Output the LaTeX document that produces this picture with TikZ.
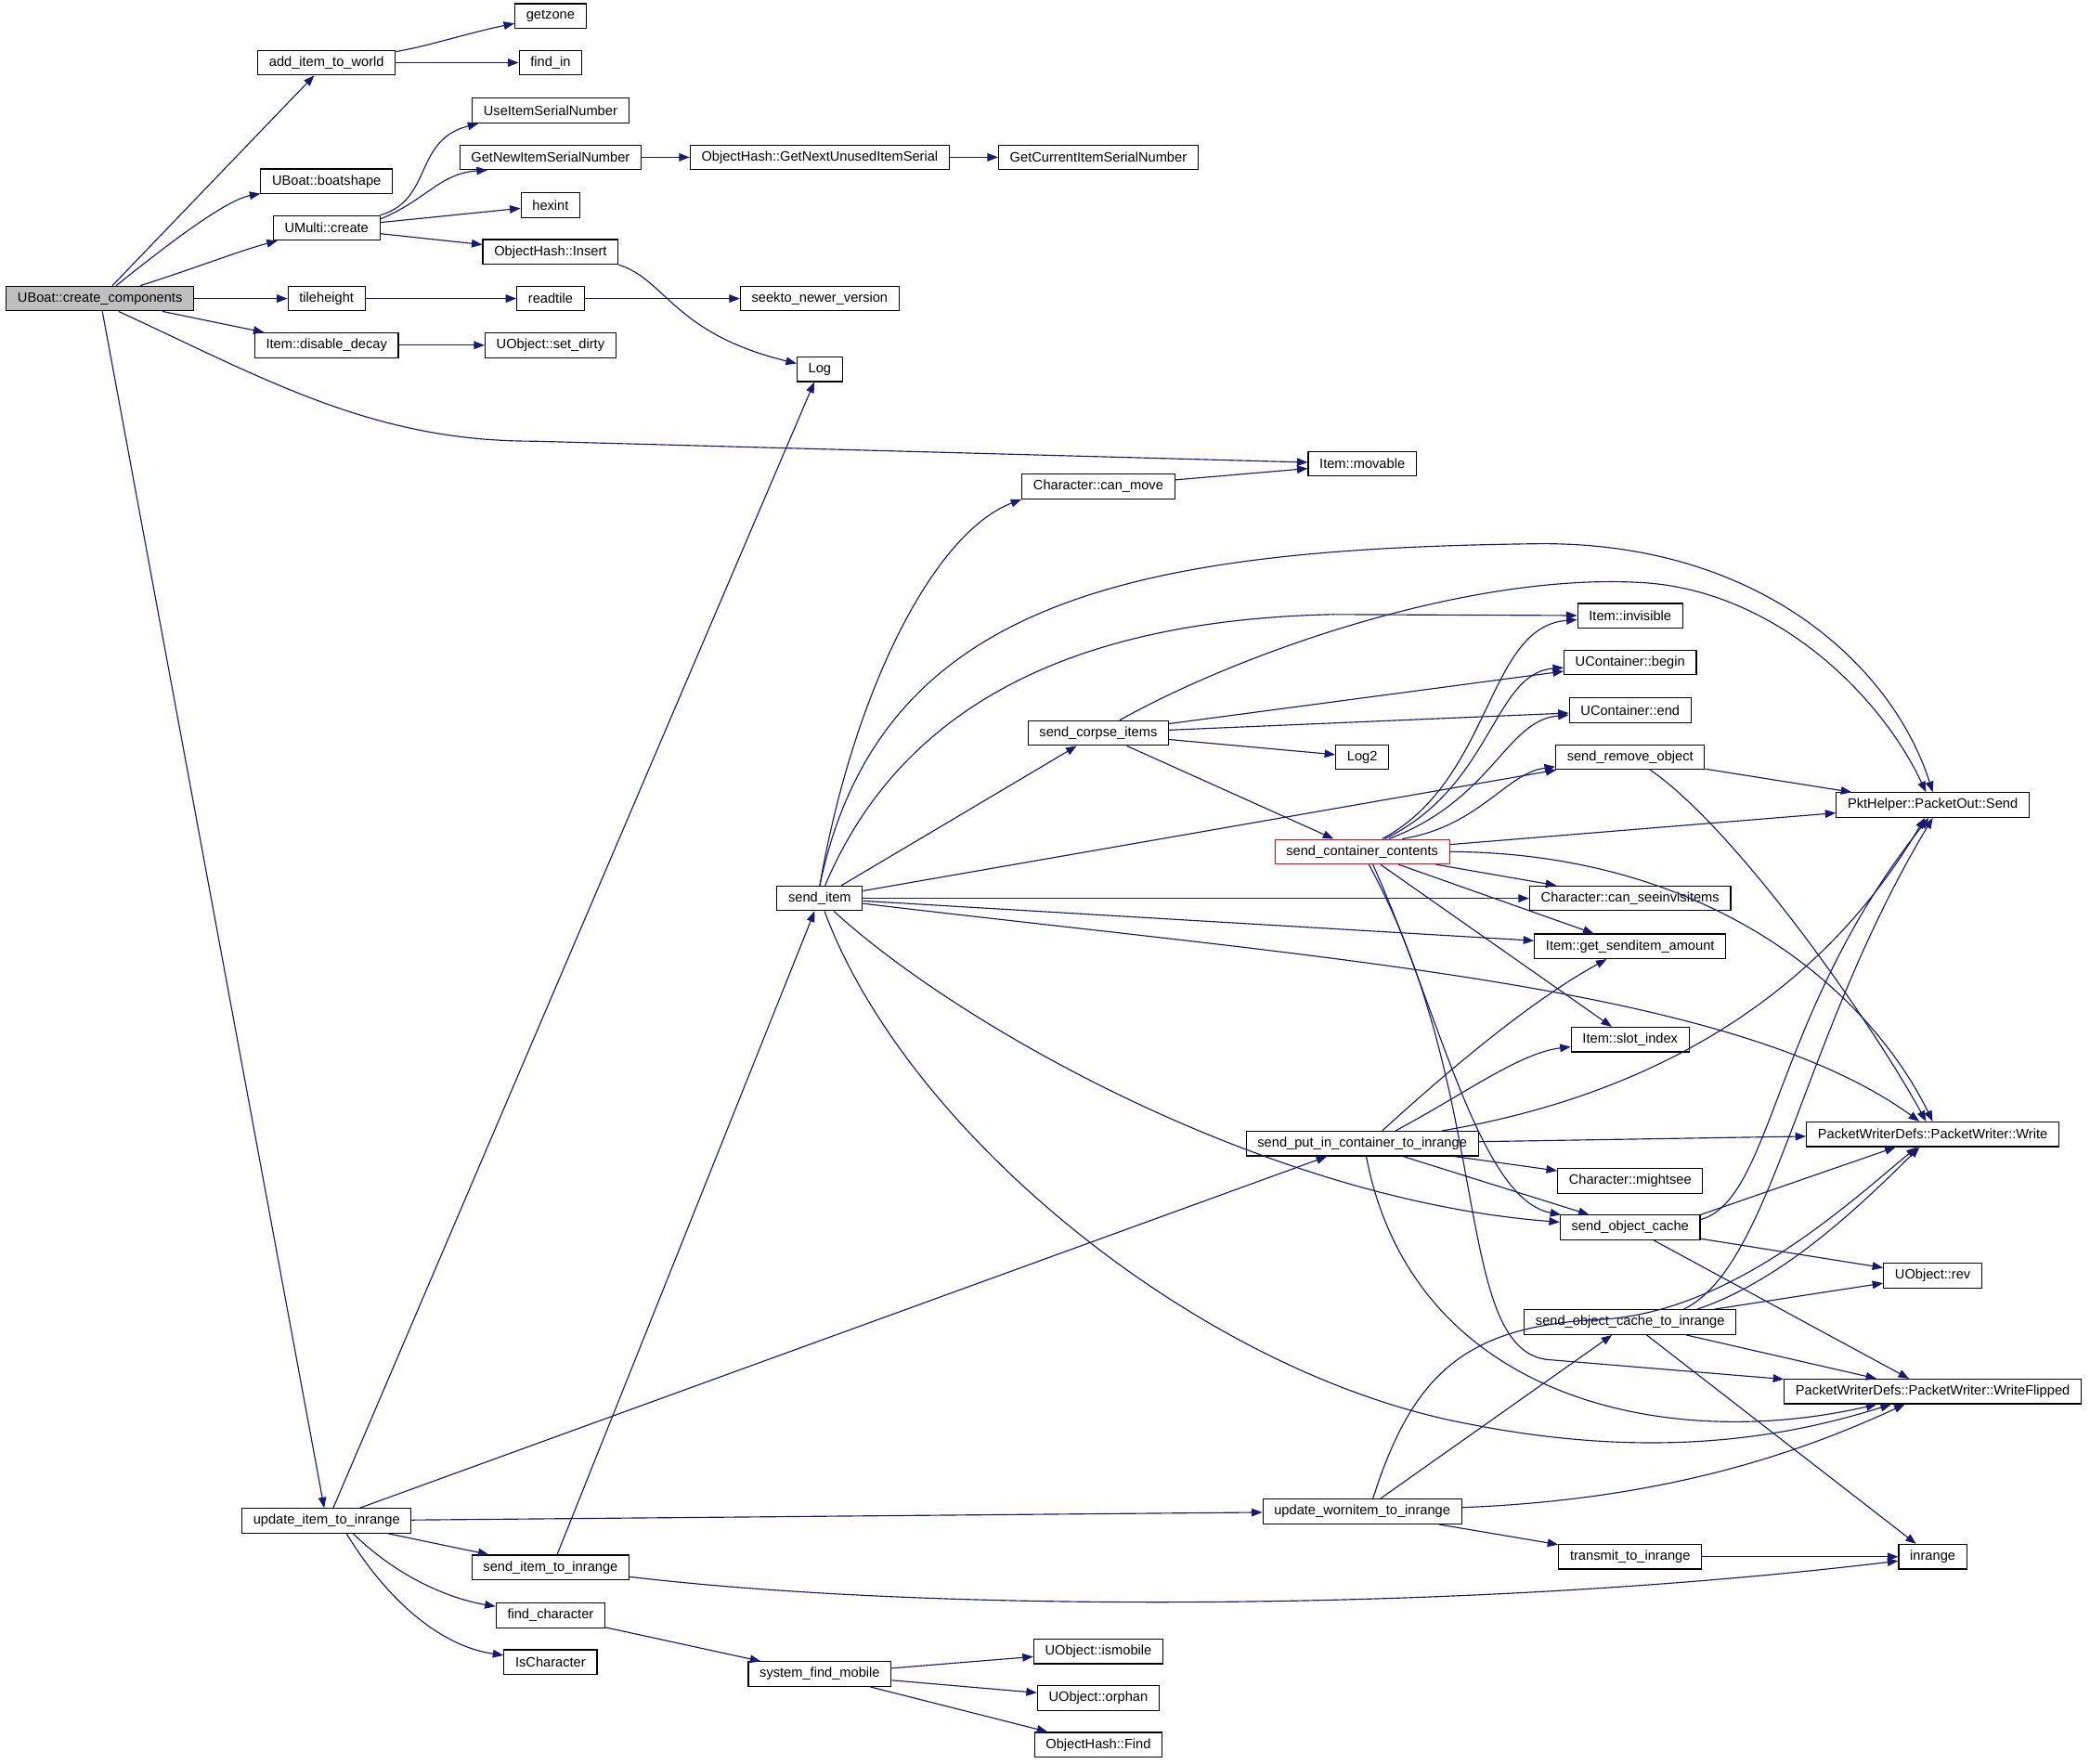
\documentclass[tikz,border=0pt]{standalone}
\usepackage{fontspec}
\setmainfont{Liberation Sans}
\usetikzlibrary{arrows.meta}
\definecolor{edgeblue}{HTML}{191970}
\tikzset{
  fn/.style={draw, rectangle, line width=0.8pt, inner xsep=8.5pt, inner ysep=0pt,
    minimum height=18.5pt, font=\fontsize{10.2}{12}\selectfont},
  fnmain/.style={fn, fill=black!25},
  fnred/.style={fn, draw=red},
  call/.style={->, draw=edgeblue, line width=0.8pt}
}

\begin{document}
\begin{tikzpicture}[x=1pt, y=-1pt, >={Triangle[length=8pt,width=6pt]}]
      \useasboundingbox (0,0) rectangle (1568,1323);

      \node[fnmain] (cc) at (75,224) {UBoat::create\_components};
      \node[fn] (aitw) at (245,47) {add\_item\_to\_world};
      \node[fn] (getzone) at (413,12) {getzone};
      \node[fn] (findin) at (413,47) {find\_in};
      \node[fn] (boat) at (245,136) {UBoat::boatshape};
      \node[fn] (useisn) at (413,83) {UseItemSerialNumber};
      \node[fn] (getnew) at (413,118) {GetNewItemSerialNumber};
      \node[fn] (getnext) at (615,118) {ObjectHash::GetNextUnusedItemSerial};
      \node[fn] (getcur) at (824,118) {GetCurrentItemSerialNumber};
      \node[fn] (umc) at (245,171) {UMulti::create};
      \node[fn] (hexint) at (413,154) {hexint};
      \node[fn] (ohins) at (413,189) {ObjectHash::Insert};
      \node[fn] (tileh) at (245,224) {tileheight};
      \node[fn] (readtile) at (413,224) {readtile};
      \node[fn] (seekto) at (615,224) {seekto\_newer\_version};
      \node[fn] (disdec) at (245,259) {Item::disable\_decay};
      \node[fn] (setdirty) at (413,259) {UObject::set\_dirty};
      \node[fn] (log) at (615,277) {Log};
      \node[fn] (movable) at (1022,348) {Item::movable};
      \node[fn] (canmove) at (824,365) {Character::can\_move};
      \node[fn] (invis) at (1223,462) {Item::invisible};
      \node[fn] (cbegin) at (1223,497) {UContainer::begin};
      \node[fn] (cend) at (1223,533) {UContainer::end};
      \node[fn] (corpse) at (824,550) {send\_corpse\_items};
      \node[fn] (logtwo) at (1022,568) {Log2};
      \node[fn] (remobj) at (1223,568) {send\_remove\_object};
      \node[fn] (pktsend) at (1450,604) {PktHelper::PacketOut::Send};
      \node[fnred] (contents) at (1022,639) {send\_container\_contents};
      \node[fn] (senditem) at (615,674) {send\_item};
      \node[fn] (seeinvis) at (1223,674) {Character::can\_seeinvisitems};
      \node[fn] (amount) at (1223,710) {Item::get\_senditem\_amount};
      \node[fn] (slotidx) at (1223,780) {Item::slot\_index};
      \node[fn] (putin) at (1022,858) {send\_put\_in\_container\_to\_inrange};
      \node[fn] (pwwrite) at (1450,851) {PacketWriterDefs::PacketWriter::Write};
      \node[fn] (mightsee) at (1223,886) {Character::mightsee};
      \node[fn] (objcache) at (1223,921) {send\_object\_cache};
      \node[fn] (rev) at (1450,957) {UObject::rev};
      \node[fn] (cacheinr) at (1223,992) {send\_object\_cache\_to\_inrange};
      \node[fn] (pwflip) at (1450,1044) {PacketWriterDefs::PacketWriter::WriteFlipped};
      \node[fn] (uiti) at (245,1141) {update\_item\_to\_inrange};
      \node[fn] (worn) at (1022,1134) {update\_wornitem\_to\_inrange};
      \node[fn] (transmit) at (1223,1168) {transmit\_to\_inrange};
      \node[fn] (inrange) at (1450,1168) {inrange};
      \node[fn] (sendinr) at (413,1176) {send\_item\_to\_inrange};
      \node[fn] (findchar) at (413,1212) {find\_character};
      \node[fn] (ischar) at (413,1247) {IsCharacter};
      \node[fn] (sysfind) at (615,1256) {system\_find\_mobile};
      \node[fn] (ismobile) at (824,1239) {UObject::ismobile};
      \node[fn] (orphan) at (824,1274) {UObject::orphan};
      \node[fn] (ohfind) at (824,1309) {ObjectHash::Find};

      \draw[call] (cc) -- (aitw);
      \draw[call] (cc) .. controls (130,180) and (170,150) .. (boat);
      \draw[call] (cc) .. controls (150,200) and (180,188) .. (umc);
      \draw[call] (cc) -- (tileh);
      \draw[call] (cc) -- (disdec);
      \draw[call] ([xshift=14pt]cc.south) .. controls (200,285) and (280,331) .. (400,331) -- (movable);
      \draw[call] (cc) -- (uiti);

      \draw[call] (aitw) .. controls (320,35) and (350,25) .. (getzone);
      \draw[call] (aitw) -- (findin);
      \draw[call] (umc.north east) .. controls (325,150) and (310,105) .. ([xshift=5pt]useisn.south west);
      \draw[call] ([yshift=-3pt]umc.north east) .. controls (320,150) and (330,130) .. ([xshift=21pt]getnew.south west);
      \draw[call] (umc) -- (hexint);
      \draw[call] (umc) -- (ohins);
      \draw[call] (getnew) -- (getnext);
      \draw[call] (getnext) -- (getcur);
      \draw[call] (ohins.south east) .. controls (500,210) and (505,250) .. (log);
      \draw[call] (tileh) -- (readtile);
      \draw[call] (readtile) -- (seekto);
      \draw[call] (disdec) -- (setdirty);
      \draw[call] (canmove) -- (movable);

      \draw[call] ([xshift=5pt]uiti.north) -- (log);
      \draw[call] ([xshift=25pt]uiti.north) -- (putin);
      \draw[call] (uiti) -- (worn);
      \draw[call] (uiti) -- (sendinr);
      \draw[call] ([xshift=20pt]uiti.south) .. controls (300,1185) and (340,1200) .. (findchar);
      \draw[call] ([xshift=15pt]uiti.south) .. controls (290,1200) and (330,1235) .. (ischar);
      \draw[call] ([xshift=5pt]sendinr.north) -- (senditem);
      \draw[call] (sendinr) .. controls (700,1210) and (1100,1210) .. (inrange);
      \draw[call] (findchar) -- (sysfind);
      \draw[call] (sysfind) -- (ismobile);
      \draw[call] (sysfind) -- (orphan);
      \draw[call] (sysfind) -- (ohfind);

      \draw[call] (senditem.north) .. controls (640,520) and (700,400) .. (canmove.south west);
      \draw[call] (senditem.north) .. controls (660,450) and (850,412) .. (1150,408) .. controls (1320,405) and (1420,500) .. (pktsend.north);
      \draw[call] ([xshift=4pt]senditem.north) .. controls (680,520) and (820,465) .. (1000,461) -- (invis);
      \draw[call] (senditem) -- (corpse);
      \draw[call] (senditem) -- (remobj);
      \draw[call] (senditem) -- (seeinvis);
      \draw[call] (senditem) -- (amount);
      \draw[call] (senditem) .. controls (1000,720) and (1300,740) .. ([xshift=-10pt]pwwrite.north);
      \draw[call] (senditem) .. controls (720,770) and (950,900) .. (objcache);
      \draw[call] (senditem) .. controls (680,850) and (900,1030) .. (1100,1068) .. controls (1250,1098) and (1350,1075) .. (pwflip);

      \draw[call] ([xshift=16pt]corpse.north) .. controls (930,490) and (1100,430) .. (1230,437) .. controls (1330,442) and (1410,520) .. ([xshift=-5pt]pktsend.north);
      \draw[call] (corpse) -- (cbegin);
      \draw[call] (corpse) -- (cend);
      \draw[call] (corpse) -- (logtwo);
      \draw[call] (corpse) -- (contents);

      \draw[call] ([xshift=15pt]contents.north) .. controls (1120,585) and (1115,470) .. (invis);
      \draw[call] ([xshift=17pt]contents.north) .. controls (1120,590) and (1120,505) .. (cbegin);
      \draw[call] ([xshift=20pt]contents.north) .. controls (1120,600) and (1130,540) .. (cend);
      \draw[call] ([xshift=30pt]contents.north) .. controls (1110,620) and (1130,580) .. (remobj);
      \draw[call] (contents) -- (pktsend);
      \draw[call] (contents.east) .. controls (1280,640) and (1400,740) .. (pwwrite.north);
      \draw[call] (contents) -- (seeinvis);
      \draw[call] (contents) -- (amount);
      \draw[call] (contents) -- (slotidx);
      \draw[call] ([xshift=8pt]contents.south) .. controls (1080,760) and (1110,900) .. (objcache);
      \draw[call] ([xshift=5pt]contents.south) .. controls (1120,820) and (1090,1010) .. (1160,1020) -- (pwflip);

      \draw[call] (remobj) -- (pktsend);
      \draw[call] ([xshift=15pt]remobj.south) .. controls (1300,620) and (1400,760) .. ([xshift=-5pt]pwwrite.north);

      \draw[call] ([xshift=15pt]putin.north) .. controls (1090,800) and (1150,750) .. (amount);
      \draw[call] ([xshift=25pt]putin.north) .. controls (1100,820) and (1140,790) .. (slotidx);
      \draw[call] ([xshift=60pt]putin.north) .. controls (1250,820) and (1370,740) .. ([xshift=-6pt]pktsend.south);
      \draw[call] (putin) -- (pwwrite);
      \draw[call] (putin) -- (mightsee);
      \draw[call] (putin) -- (objcache);
      \draw[call] ([xshift=3pt]putin.south) .. controls (1060,1050) and (1250,1090) .. (pwflip);

      \draw[call] ([yshift=6pt]objcache.east) .. controls (1330,900) and (1330,760) .. ([xshift=-3pt]pktsend.south);
      \draw[call] (objcache.north east) -- (pwwrite);
      \draw[call] (objcache) -- (rev);
      \draw[call] (objcache) -- (pwflip);

      \draw[call] ([xshift=40pt]cacheinr.north) .. controls (1330,950) and (1350,780) .. (pktsend.south);
      \draw[call] ([xshift=50pt]cacheinr.north) .. controls (1340,960) and (1400,900) .. (pwwrite);
      \draw[call] (cacheinr) -- (rev);
      \draw[call] (cacheinr) -- (pwflip);
      \draw[call] (cacheinr) -- (inrange);

      \draw[call] ([xshift=8pt]worn.north) .. controls (1060,1030) and (1100,995) .. (1200,990) .. controls (1300,985) and (1390,900) .. (pwwrite);
      \draw[call] (worn) -- (cacheinr);
      \draw[call] (worn) .. controls (1250,1125) and (1350,1090) .. (pwflip);
      \draw[call] (worn) -- (transmit);
      \draw[call] (transmit) -- (inrange);
\end{tikzpicture}
\end{document}
